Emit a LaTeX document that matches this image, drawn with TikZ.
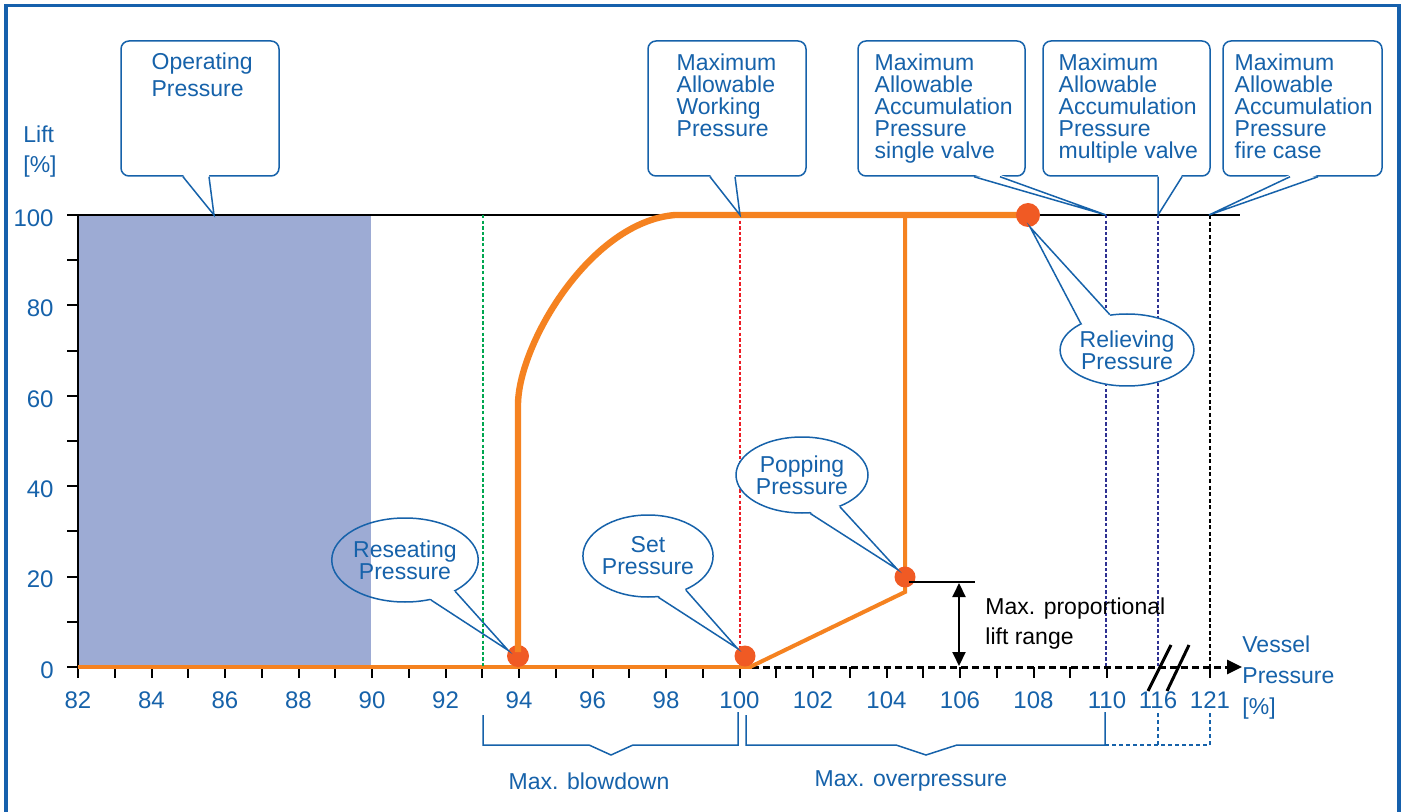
\documentclass[tikz,border=0pt]{standalone}
\usepackage{fontspec}
\setmainfont{Liberation Sans}
\usetikzlibrary{arrows.meta, calc, shapes.geometric}
\definecolor{labelblue}{RGB}{22,98,170}
\definecolor{frameblue}{RGB}{22,96,172}
\definecolor{liftorange}{RGB}{245,130,32}
\definecolor{dotorange}{RGB}{240,90,36}
\definecolor{opfill}{RGB}{157,171,212}
\definecolor{mawpred}{RGB}{237,28,36}
\definecolor{reseatgreen}{RGB}{0,166,80}
\definecolor{accunavy}{RGB}{46,49,146}

\begin{document}
\begin{tikzpicture}[x=0.5pt, y=-0.5pt,
    cbox/.style   ={rectangle, rounded corners=4pt, draw=labelblue, fill=white,
                    line width=0.75pt, minimum height=67.5pt, inner sep=0pt},
    ctext/.style  ={anchor=north west, align=left, inner sep=0pt,
                    font=\fontsize{11.5}{11}\selectfont, text=labelblue},
    bubble/.style ={ellipse, draw=labelblue, fill=white, line width=0.75pt,
                    inner sep=0pt, align=center, text=labelblue,
                    font=\fontsize{11.5}{11}\selectfont},
    ptr/.style    ={labelblue, line width=0.75pt},
    pdot/.style   ={circle, fill=dotorange, minimum size=11pt, inner sep=0pt},
    axtick/.style ={black, line width=1pt},
    numlbl/.style ={text=labelblue, font=\fontsize{12}{12}\selectfont, inner sep=0pt},
    refline/.style={line width=1.25pt, dash pattern=on 1.7pt off 1.1pt},
    brk/.style    ={labelblue, line width=0.75pt},
    liftthick/.style={liftorange, line width=3.2pt, line join=round},
    liftthin/.style ={liftorange, line width=2pt}
]

\useasboundingbox (0,0) rectangle (1402,812);
\fill[white] (0,0) rectangle (1402,812);

% ============================================================
% FRAME AND OPERATING RANGE
% ============================================================

\draw[frameblue, line width=1.75pt] (6,5.5) rectangle (1399,850);
\fill[opfill] (78,215) rectangle (371,667);

% -- top line and reference lines --
\draw[black, line width=1pt] (78,215) -- (1240,215);
\draw[refline, accunavy] (1106,215) -- (1106,667);
\draw[refline, accunavy] (1158,215) -- (1158,667);
\draw[refline, black, line width=1.4pt, dash pattern=on 2pt off 1.3pt] (1210,215) -- (1210,667);
\draw[refline, mawpred]  (740,215)  -- (740,667);

% ============================================================
% AXES
% ============================================================

\draw[black, line width=1pt] (78,215) -- (78,667);
\foreach \k in {0,...,10}
    \draw[axtick] (67,{667-45.2*\k}) -- (78,{667-45.2*\k});
\foreach \k in {0,20,...,100}
    \node[numlbl, anchor=east] (ly\k) at (54,{670-4.52*\k}) {\k};

\foreach \v in {82,...,110}
    \draw[axtick] ({78+(\v-82)*36.75},667) -- ++(0,11);
\draw[axtick] (1210,667) -- ++(0,11);
\foreach \v in {82,84,...,110}
    \node[numlbl] (lx\v) at ({78+(\v-82)*36.75},700) {\v};
\node[numlbl] (lx116) at (1158,700) {116};
\node[numlbl] (lx121) at (1210,700) {121};

\draw[black, line width=1.5pt, dash pattern=on 3.5pt off 2pt,
      -{Triangle[length=7.5pt,width=7pt]}] (752,667) -- (1242,667);
\draw[black, line width=1.5pt] (1148,691) -- (1171,645);
\draw[black, line width=1.5pt] (1167,691) -- (1189,645);

\node[ctext, font=\fontsize{11.5}{15}\selectfont] (liftT) at (23,125) {Lift\\{[\%]}};
\node[ctext, font=\fontsize{11.5}{15.5}\selectfont] (vesT) at (1242,635) {Vessel\\Pressure\\{[\%]}};

% ============================================================
% LIFT CURVE
% ============================================================

\draw[liftorange, line width=2.2pt] (78,667) -- (752,667);
\node[pdot] (dRs) at (518,656) {};
\draw[liftthick] (518,652) -- (518,405) .. controls (518,345) and (590,222) .. (675,215) -- (1028,215);
\draw[liftthin] (750,667) -- (905,592) -- (905,215);

\node[pdot, minimum size=10.5pt] (dSet) at (745,656) {};
\node[pdot, minimum size=10.5pt] (dPop) at (905,577) {};
\node[pdot, minimum size=12pt]   (dRel) at (1028,215) {};

% -- proportional lift range --
\draw[black, line width=1pt] (909,582) -- (975,582);
\draw[black, line width=1pt, {Triangle[length=7pt,width=6.5pt]}-{Triangle[length=7pt,width=6.5pt]}]
    (959,583) -- (959,666);
\node[ctext, text=black, font=\fontsize{11.5}{15}\selectfont] (lrT) at (985,597) {Max. proportional\\lift range};

% ============================================================
% BOX CALLOUTS
% ============================================================

% -- operating pressure --
\node[cbox, minimum width=79pt] (op) at (200,108.5) {};
\node[ctext, font=\fontsize{11.5}{13.5}\selectfont] (opT) at ($(op.north west)+(31,12)$) {Operating\\Pressure};
\coordinate (tOp) at (214,215);
\fill[white] ($(op.south)+(-17,-2)$) -- (tOp) -- ($(op.south)+(9,-2)$) -- cycle;
\draw[ptr] ($(op.south)+(-17,0)$) -- (tOp) -- ($(op.south)+(9,0)$);

% -- maximum allowable working pressure --
\node[cbox, minimum width=79pt] (mawp) at (727,108.5) {};
\node[ctext] (mawpT) at ($(mawp.north west)+(29,13)$) {Maximum\\Allowable\\Working\\Pressure};
\coordinate (tMawp) at (740,215);
\fill[white] ($(mawp.south)+(-17,-2)$) -- (tMawp) -- ($(mawp.south)+(8,-2)$) -- cycle;
\draw[ptr] ($(mawp.south)+(-17,0)$) -- (tMawp) -- ($(mawp.south)+(8,0)$);

% -- accumulation, single valve --
\node[cbox, minimum width=83.5pt] (sgl) at (941.5,108.5) {};
\node[ctext] (sglT) at ($(sgl.north west)+(17,13)$) {Maximum\\Allowable\\Accumulation\\Pressure\\single valve};
\coordinate (tSgl) at (1106,215);
\fill[white] ($(sgl.south)+(32.5,-2)$) -- (tSgl) -- ($(sgl.south)+(58.5,-2)$) -- cycle;
\draw[ptr] ($(sgl.south)+(32.5,0)$) -- (tSgl) -- ($(sgl.south)+(58.5,0)$);

% -- accumulation, multiple valve --
\node[cbox, minimum width=83.5pt] (mul) at (1126.5,108.5) {};
\node[ctext] (mulT) at ($(mul.north west)+(16,13)$) {Maximum\\Allowable\\Accumulation\\Pressure\\multiple valve};
\coordinate (tMul) at (1158,215);
\fill[white] ($(mul.south)+(31.5,-2)$) -- (tMul) -- ($(mul.south)+(55.5,-2)$) -- cycle;
\draw[ptr] ($(mul.south)+(31.5,0)$) -- (tMul) -- ($(mul.south)+(55.5,0)$);

% -- accumulation, fire case --
\node[cbox, minimum width=79.5pt] (fire) at (1302.5,108.5) {};
\node[ctext] (fireT) at ($(fire.north west)+(12,13)$) {Maximum\\Allowable\\Accumulation\\Pressure\\fire case};
\coordinate (tFire) at (1209,215);
\fill[white] ($(fire.south)+(-12.5,-2)$) -- (tFire) -- ($(fire.south)+(15.5,-2)$) -- cycle;
\draw[ptr] ($(fire.south)+(-12.5,0)$) -- (tFire) -- ($(fire.south)+(15.5,0)$);

% ============================================================
% BUBBLE CALLOUTS
% ============================================================

\node[bubble, fill=none, minimum width=72pt, minimum height=42pt] (rs) at (405,560) {Reseating\\Pressure};
\fill[white] ($(rs.-57)!1pt!(rs.center)$) -- (dRs.150) -- ($(rs.-32)!1pt!(rs.center)$) -- cycle;
\draw[ptr] (rs.-57) -- (dRs.150) -- (rs.-32);

\node[bubble, minimum width=65pt, minimum height=41pt] (set) at (648,556) {Set\\Pressure};
\fill[white] ($(set.-76)!1pt!(set.center)$) -- (dSet.135) -- ($(set.-42)!1pt!(set.center)$) -- cycle;
\draw[ptr] (set.-76) -- (dSet.135) -- (set.-42);

\node[bubble, minimum width=66pt, minimum height=38pt] (pop) at (802,475) {Popping\\Pressure};
\fill[white] ($(pop.-78)!1pt!(pop.center)$) -- (dPop.135) -- ($(pop.-40)!1pt!(pop.center)$) -- cycle;
\draw[ptr] (pop.-78) -- (dPop.135) -- (pop.-40);

\node[bubble, minimum width=64pt, minimum height=36pt] (rel) at (1127,350) {Relieving\\Pressure};
\fill[white] ($(rel.150)!1pt!(rel.center)$) -- (dRel.-80) -- ($(rel.116)!1pt!(rel.center)$) -- cycle;
\draw[ptr] (rel.150) -- (dRel.-80) -- (rel.116);

% -- blowdown reference line on top --
\draw[refline, reseatgreen] (483,215) -- (483,667);

% ============================================================
% BRACKETS
% ============================================================

\draw[brk] (483,715) |- (589,745) -- (611,755) -- (633,745) -| (738,712);
\draw[brk] (746,715) |- (896,745) -- (926,755) -- (957,745) -| (1105,712);
\draw[brk, dash pattern=on 2pt off 1.5pt] (1105,745) -- (1210,745) -- (1210,712);
\draw[brk, dash pattern=on 2pt off 1.5pt] (1158,745) -- (1158,712);

\node[numlbl, font=\fontsize{11.5}{11}\selectfont] (bdT) at (589,781) {Max. blowdown};
\node[numlbl, font=\fontsize{11.5}{11}\selectfont] (ovT) at (911,781) {Max. overpressure};

\end{tikzpicture}
\end{document}
